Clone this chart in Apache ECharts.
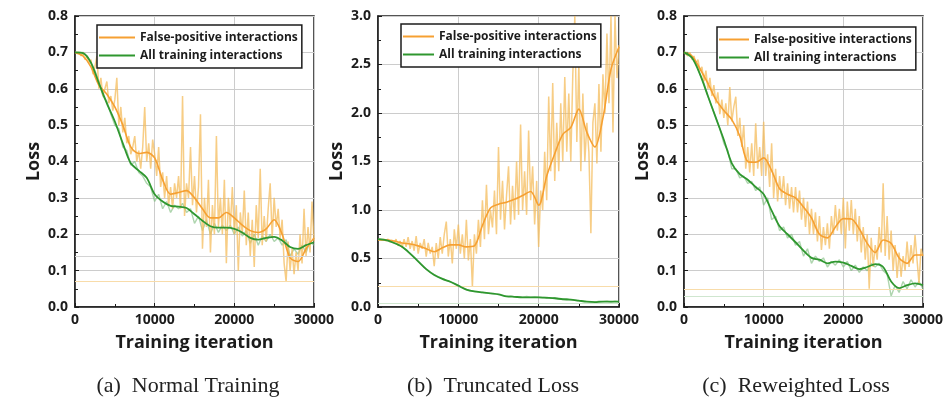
<!DOCTYPE html>
<html>
<head>
<meta charset="utf-8">
<script src="https://cdn.jsdelivr.net/npm/echarts@6/dist/echarts.min.js"></script>
<style>
  html, body { margin: 0; padding: 0; background: #fff; }
  #chart { width: 947px; height: 397px; }
</style>
</head>
<body>
<div id="chart"></div>
<script>
// smoothed curves, one value per 1000 iterations
const smoothIters = [0, 1000, 2000, 3000, 4000, 5000, 6000, 7000, 8000, 9000, 10000, 11000, 12000, 13000, 14000, 15000,
  16000, 17000, 18000, 19000, 20000, 21000, 22000, 23000, 24000, 25000, 26000, 27000, 28000, 29000, 30000];
// raw traces: orange every 250 iterations, green every 500
const RAW_ORANGE_STEP = 250;
const RAW_GREEN_STEP = 500;

// (a) Normal Training
const orangeA = [0.70, 0.69, 0.66, 0.61, 0.585, 0.55, 0.50, 0.44, 0.422, 0.425, 0.41, 0.35, 0.31, 0.315, 0.32, 0.30,
  0.27, 0.245, 0.245, 0.26, 0.245, 0.225, 0.21, 0.205, 0.215, 0.24, 0.20, 0.135, 0.125, 0.16, 0.19];
const greenA = [0.70, 0.698, 0.672, 0.615, 0.56, 0.51, 0.45, 0.395, 0.375, 0.355, 0.31, 0.29, 0.278, 0.276, 0.272, 0.255,
  0.237, 0.222, 0.218, 0.218, 0.215, 0.205, 0.19, 0.185, 0.19, 0.193, 0.183, 0.165, 0.16, 0.17, 0.178];
const rawOrangeA = [
  0.70, 0.70, 0.70, 0.69, 0.70, 0.68, 0.69, 0.67, 0.68,
  0.64, 0.66, 0.69, 0.60, 0.63, 0.58, 0.60, 0.62,
  0.56, 0.58, 0.54, 0.57, 0.63, 0.50, 0.55, 0.48,
  0.52, 0.45, 0.47, 0.42, 0.44, 0.47, 0.40, 0.43,
  0.38, 0.44, 0.55, 0.40, 0.45, 0.38, 0.46, 0.42,
  0.36, 0.44, 0.33, 0.37, 0.30, 0.36, 0.28, 0.33,
  0.27, 0.34, 0.30, 0.36, 0.27, 0.58, 0.25, 0.34,
  0.30, 0.44, 0.28, 0.36, 0.26, 0.33, 0.53, 0.16,
  0.30, 0.22, 0.35, 0.15, 0.28, 0.20, 0.47, 0.22,
  0.30, 0.20, 0.35, 0.12, 0.30, 0.22, 0.33, 0.20,
  0.28, 0.10, 0.26, 0.20, 0.32, 0.17, 0.26, 0.14,
  0.24, 0.11, 0.28, 0.19, 0.38, 0.17, 0.25, 0.18,
  0.27, 0.34, 0.19, 0.30, 0.22, 0.27, 0.19, 0.24,
  0.12, 0.07, 0.18, 0.10, 0.16, 0.09, 0.15, 0.10,
  0.20, 0.12, 0.27, 0.14, 0.22, 0.15, 0.29, 0.18
];
const rawGreenA = [0.70, 0.70, 0.70, 0.69, 0.67, 0.65, 0.62, 0.58, 0.565, 0.53, 0.50, 0.49, 0.44, 0.43, 0.39, 0.40,
  0.37, 0.36, 0.34, 0.33, 0.29, 0.31, 0.27, 0.29, 0.26, 0.28, 0.27, 0.285, 0.26, 0.27, 0.23, 0.25, 0.21, 0.24, 0.20,
  0.23, 0.205, 0.225, 0.21, 0.225, 0.20, 0.22, 0.195, 0.21, 0.175, 0.20, 0.17, 0.195, 0.18, 0.20, 0.18, 0.19, 0.17,
  0.185, 0.14, 0.16, 0.145, 0.17, 0.15, 0.18, 0.17];
const flatLinesA = [0.145, 0.07];

// (b) Truncated Loss
const orangeB = [0.69, 0.69, 0.68, 0.66, 0.65, 0.63, 0.60, 0.57, 0.61, 0.64, 0.64, 0.62, 0.63, 0.84, 1.02, 1.06,
  1.08, 1.11, 1.15, 1.19, 1.05, 1.35, 1.58, 1.78, 1.85, 2.04, 1.80, 1.65, 1.95, 2.45, 2.68];
const greenB = [0.70, 0.69, 0.66, 0.62, 0.55, 0.47, 0.39, 0.33, 0.29, 0.26, 0.22, 0.18, 0.16, 0.15, 0.14, 0.13,
  0.11, 0.105, 0.10, 0.10, 0.10, 0.095, 0.09, 0.08, 0.075, 0.065, 0.055, 0.05, 0.055, 0.055, 0.055];
const rawOrangeB = [
  0.69, 0.70, 0.69, 0.70, 0.68, 0.70, 0.67, 0.69, 0.66,
  0.70, 0.63, 0.68, 0.61, 0.70, 0.62, 0.72, 0.60,
  0.68, 0.58, 0.73, 0.55, 0.66, 0.60, 0.70, 0.52,
  0.66, 0.55, 0.62, 0.42, 0.66, 0.50, 0.72, 0.55,
  0.75, 0.88, 0.52, 0.70, 0.45, 0.80, 0.60, 0.85,
  0.55, 0.75, 0.50, 0.90, 0.48, 0.70, 0.21, 0.75,
  0.55, 0.90, 0.62, 1.10, 0.70, 1.26, 0.75, 1.00,
  0.82, 1.20, 0.75, 1.65, 0.90, 1.30, 0.80, 1.15,
  1.45, 0.85, 1.25, 0.90, 1.50, 0.95, 1.88, 1.00,
  1.40, 0.95, 1.82, 1.10, 1.45, 0.85, 1.30, 0.62,
  1.20, 1.00, 1.60, 1.10, 2.17, 1.40, 2.31, 1.30,
  1.90, 1.40, 2.10, 1.50, 2.37, 1.60, 2.20, 1.50,
  2.40, 3.00, 1.70, 2.50, 1.40, 2.20, 1.50, 1.90,
  1.60, 0.76, 1.90, 2.10, 1.48, 2.30, 1.60, 2.40,
  2.00, 2.82, 2.10, 3.00, 1.80, 3.00, 2.36, 2.70
];
const rawGreenB = [0.70, 0.70, 0.69, 0.685, 0.665, 0.645, 0.62, 0.59, 0.55, 0.515, 0.47, 0.43, 0.39, 0.36, 0.335,
  0.31, 0.295, 0.275, 0.26, 0.24, 0.22, 0.20, 0.18, 0.17, 0.16, 0.155, 0.15, 0.145, 0.14, 0.135, 0.13, 0.12, 0.11,
  0.115, 0.105, 0.10, 0.10, 0.11, 0.10, 0.105, 0.10, 0.095, 0.10, 0.09, 0.095, 0.085, 0.08, 0.085, 0.075, 0.07,
  0.065, 0.06, 0.055, 0.05, 0.05, 0.06, 0.055, 0.06, 0.05, 0.06, 0.055];
const flatLinesB = [0.21, 0.035];

// (c) Reweighted Loss
const orangeC = [0.70, 0.69, 0.655, 0.615, 0.57, 0.54, 0.515, 0.47, 0.40, 0.398, 0.41, 0.375, 0.325, 0.31, 0.30, 0.275,
  0.245, 0.20, 0.19, 0.22, 0.243, 0.242, 0.215, 0.175, 0.15, 0.184, 0.175, 0.135, 0.12, 0.143, 0.143];
const greenC = [0.70, 0.685, 0.64, 0.58, 0.52, 0.46, 0.395, 0.365, 0.35, 0.33, 0.31, 0.265, 0.222, 0.20, 0.178, 0.155,
  0.135, 0.13, 0.12, 0.125, 0.122, 0.113, 0.104, 0.11, 0.118, 0.11, 0.07, 0.052, 0.06, 0.065, 0.06];
const rawOrangeC = [
  0.70, 0.70, 0.69, 0.70, 0.68, 0.69, 0.67, 0.68, 0.65,
  0.66, 0.62, 0.65, 0.60, 0.63, 0.58, 0.61, 0.56,
  0.59, 0.53, 0.57, 0.52, 0.56, 0.50, 0.605, 0.51,
  0.55, 0.578, 0.47, 0.52, 0.44, 0.50, 0.38, 0.44,
  0.37, 0.45, 0.36, 0.505, 0.38, 0.44, 0.36, 0.509,
  0.36, 0.42, 0.33, 0.45, 0.30, 0.38, 0.29, 0.36,
  0.30, 0.36, 0.28, 0.34, 0.27, 0.33, 0.26, 0.33,
  0.26, 0.32, 0.24, 0.30, 0.22, 0.29, 0.20, 0.27,
  0.20, 0.26, 0.18, 0.25, 0.157, 0.22, 0.17, 0.23,
  0.16, 0.25, 0.20, 0.28, 0.21, 0.27, 0.20, 0.30,
  0.161, 0.29, 0.21, 0.294, 0.20, 0.27, 0.18, 0.25,
  0.15, 0.22, 0.13, 0.20, 0.05, 0.19, 0.11, 0.17,
  0.13, 0.22, 0.15, 0.34, 0.14, 0.25, 0.13, 0.21,
  0.10, 0.17, 0.08, 0.15, 0.083, 0.14, 0.10, 0.18,
  0.11, 0.17, 0.12, 0.198, 0.13, 0.065, 0.16, 0.14
];
const rawGreenC = [0.70, 0.70, 0.685, 0.67, 0.64, 0.615, 0.58, 0.55, 0.52, 0.49, 0.45, 0.43, 0.38, 0.38, 0.355, 0.36,
  0.34, 0.345, 0.32, 0.33, 0.28, 0.30, 0.24, 0.25, 0.21, 0.22, 0.19, 0.20, 0.17, 0.18, 0.14, 0.16, 0.12, 0.14, 0.125,
  0.135, 0.11, 0.125, 0.115, 0.13, 0.11, 0.125, 0.10, 0.115, 0.095, 0.11, 0.10, 0.12, 0.11, 0.12, 0.10, 0.09, 0.03,
  0.06, 0.04, 0.07, 0.05, 0.075, 0.055, 0.07, 0.05];
const flatLinesC = [0.05, 0.027];

const NAME_FP = 'False-positive interactions';
const NAME_ALL = 'All training interactions';

const ORANGE = '#F6A032';
const GREEN = '#2F972F';
const ORANGE_RAW = 'rgba(244, 188, 92, 0.75)';
const GREEN_RAW = 'rgba(130, 190, 130, 0.65)';
const INK = '#1c1c1c';
const FONT = 'Open Sans';

const panels = [
  {
    caption: '(a)  Normal Training', captionX: 183,
    grid: { left: 75, top: 16, width: 239, height: 291 },
    yMax: 0.8, yInterval: 0.1,
    legend: { left: 97, top: 25, itemWidth: 36 },
    orange: orangeA, green: greenA, rawOrange: rawOrangeA, rawGreen: rawGreenA, flat: flatLinesA,
    flatColors: ['#d4d4d4', '#f8dcaa']
  },
  {
    caption: '(b)  Truncated Loss', captionX: 488,
    grid: { left: 378, top: 16, width: 241, height: 291 },
    yMax: 3.0, yInterval: 0.5,
    legend: { left: 401, top: 24, itemWidth: 31 },
    orange: orangeB, green: greenB, rawOrange: rawOrangeB, rawGreen: rawGreenB, flat: flatLinesB,
    flatColors: ['#f8dcaa', '#cfe6cf']
  },
  {
    caption: '(c)  Reweighted Loss', captionX: 791,
    grid: { left: 684, top: 16, width: 239, height: 291 },
    yMax: 0.8, yInterval: 0.1,
    legend: { left: 717, top: 27, itemWidth: 30 },
    orange: orangeC, green: greenC, rawOrange: rawOrangeC, rawGreen: rawGreenC, flat: flatLinesC,
    flatColors: ['#f8dcaa', '#cfe6cf']
  }
];

function pairs(xs, ys) {
  return ys.map((v, i) => [xs[i], v]);
}

function stepped(ys, step) {
  return ys.map((v, i) => [i * step, v]);
}

const option = {
  animation: false,
  backgroundColor: '#fff',
  title: [],
  legend: [],
  grid: [],
  xAxis: [],
  yAxis: [],
  series: []
};

panels.forEach((p, idx) => {
  option.grid.push({
    ...p.grid,
    show: true,
    borderColor: INK,
    borderWidth: 1.5,
    backgroundColor: '#fff'
  });

  option.xAxis.push({
    gridIndex: idx,
    type: 'value',
    min: 0,
    max: 30000,
    interval: 10000,
    name: 'Training iteration',
    nameLocation: 'middle',
    nameGap: 27,
    nameTextStyle: { fontFamily: FONT, fontWeight: 'bold', fontSize: 18, color: INK },
    axisLine: { lineStyle: { color: INK, width: 1.5 } },
    axisTick: { inside: true, length: 4, lineStyle: { color: INK } },
    minorTick: { show: true, splitNumber: 2, length: 3, lineStyle: { color: INK } },
    axisLabel: {
      fontFamily: FONT, fontWeight: 'bold', fontSize: 14, color: INK, margin: 6,
      formatter: v => String(v)
    },
    splitLine: { show: true, lineStyle: { color: '#cccccc', width: 1 } }
  });

  option.yAxis.push({
    gridIndex: idx,
    type: 'value',
    min: 0,
    max: p.yMax,
    interval: p.yInterval,
    name: 'Loss',
    nameLocation: 'middle',
    nameGap: 32,
    nameTextStyle: { fontFamily: FONT, fontWeight: 'bold', fontSize: 18, color: INK },
    axisLine: { lineStyle: { color: INK, width: 1.5 } },
    axisTick: { inside: true, length: 4, lineStyle: { color: INK } },
    minorTick: { show: true, splitNumber: 2, length: 3, lineStyle: { color: INK } },
    axisLabel: {
      fontFamily: FONT, fontWeight: 'bold', fontSize: 14, color: INK, margin: 7,
      formatter: v => v.toFixed(1)
    },
    splitLine: { show: true, lineStyle: { color: '#cccccc', width: 1 } }
  });

  option.legend.push({
    left: p.legend.left,
    top: p.legend.top,
    orient: 'vertical',
    icon: 'rect',
    itemWidth: p.legend.itemWidth,
    itemHeight: 2,
    itemGap: 3,
    padding: [5, 4, 5, 2],
    borderColor: INK,
    borderWidth: 1.5,
    borderRadius: 0,
    backgroundColor: '#fff',
    selectedMode: false,
    textStyle: { fontFamily: FONT, fontWeight: 'bold', fontSize: 12, color: INK, lineHeight: 15 },
    data: [NAME_FP, NAME_ALL]
  });

  option.title.push({
    text: p.caption,
    left: p.captionX,
    top: 370,
    textAlign: 'center',
    textStyle: { fontFamily: 'Liberation Serif', fontWeight: 'normal', fontSize: 22, color: '#222' }
  });

  const flatMarks = {
    silent: true,
    symbol: 'none',
    label: { show: false },
    data: p.flat.map((v, k) => ({ yAxis: v, lineStyle: { color: p.flatColors[k], width: 1, type: 'solid' } }))
  };

  option.series.push(
    {
      name: 'raw-green-' + idx,
      type: 'line',
      xAxisIndex: idx,
      yAxisIndex: idx,
      data: stepped(p.rawGreen, RAW_GREEN_STEP),
      symbol: 'none',
      lineStyle: { color: GREEN_RAW, width: 1.4 },
      itemStyle: { color: GREEN_RAW },
      markLine: flatMarks,
      z: 2
    },
    {
      name: 'raw-orange-' + idx,
      type: 'line',
      xAxisIndex: idx,
      yAxisIndex: idx,
      data: stepped(p.rawOrange, RAW_ORANGE_STEP),
      symbol: 'none',
      lineStyle: { color: ORANGE_RAW, width: 1.5 },
      itemStyle: { color: ORANGE_RAW },
      z: 3
    },
    {
      name: NAME_FP,
      type: 'line',
      xAxisIndex: idx,
      yAxisIndex: idx,
      data: pairs(smoothIters, p.orange),
      smooth: 0.3,
      symbol: 'none',
      lineStyle: { color: ORANGE, width: 1.6 },
      itemStyle: { color: ORANGE },
      z: 4
    },
    {
      name: NAME_ALL,
      type: 'line',
      xAxisIndex: idx,
      yAxisIndex: idx,
      data: pairs(smoothIters, p.green),
      smooth: 0.3,
      symbol: 'none',
      lineStyle: { color: GREEN, width: 1.8 },
      itemStyle: { color: GREEN },
      z: 5
    }
  );
});

const chart = echarts.init(document.getElementById('chart'), null, { renderer: 'canvas' });
chart.setOption(option);
</script>
</body>
</html>
